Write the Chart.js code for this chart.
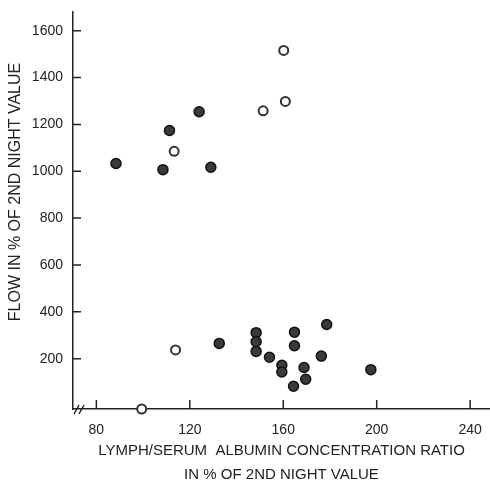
<!DOCTYPE html>
<html>
<head>
<meta charset="utf-8">
<script src="https://cdn.jsdelivr.net/npm/chart.js@4.4.0/dist/chart.umd.min.js"></script>
<style>
  html, body { margin: 0; padding: 0; background: #fff; overflow: hidden; }
  #wrap { width: 490px; height: 484px; }
</style>
</head>
<body>
<div id="wrap"><canvas id="chart"></canvas></div>
<script>
// filled circles
const filledX = [88.4, 111.3, 108.5, 124, 129, 132.6, 148.4, 148.4, 148.4, 154.1, 159.4, 159.4, 164.8, 164.8, 164.4, 168.9, 169.6, 176.3, 178.6, 197.5];
const filledY = [1033, 1174, 1007, 1254, 1017, 265, 311, 272, 231, 206, 172, 143, 313, 255, 82, 162, 112, 211, 346, 153];
// open circles
const openX = [113.3, 160.2, 160.9, 151.4, 113.9, 99.4];
const openY = [1085, 1516, 1298, 1258, 237, -15];

const xTicks = [80, 120, 160, 200, 240];
const yTicks = [200, 400, 600, 800, 1000, 1200, 1400, 1600];
const yTitle = 'FLOW IN % OF 2ND NIGHT VALUE';

const ink = '#222';
const font = 'Liberation Sans';

function toPoints(xs, ys) {
    return xs.map((x, i) => ({ x: x, y: ys[i] }));
}

function noPad(s) {
    s.paddingLeft = 0; s.paddingRight = 0;
    s.paddingTop = 0; s.paddingBottom = 0;
}

// tick marks point into the plot, the // break on the x axis, and the y title
const extras = {
    id: 'extras',
    afterDraw(chart) {
        const ctx = chart.ctx;
        const area = chart.chartArea;
        const xs = chart.scales.x, ys = chart.scales.y;
        ctx.save();
        ctx.strokeStyle = ink;
        ctx.lineWidth = 1.5;
        ctx.beginPath();
        xTicks.forEach(v => {
            const px = xs.getPixelForValue(v);
            ctx.moveTo(px, area.bottom);
            ctx.lineTo(px, area.bottom - 9);
        });
        yTicks.forEach(v => {
            const py = ys.getPixelForValue(v);
            ctx.moveTo(area.left, py);
            ctx.lineTo(area.left + 8, py);
        });
        // axis break
        ctx.moveTo(area.left + 1, area.bottom + 5);
        ctx.lineTo(area.left + 6, area.bottom - 4);
        ctx.moveTo(area.left + 6, area.bottom + 5);
        ctx.lineTo(area.left + 11, area.bottom - 4);
        ctx.stroke();

        ctx.translate(16, 192);
        ctx.rotate(-Math.PI / 2);
        ctx.fillStyle = ink;
        ctx.font = '16px "' + font + '"';
        ctx.textAlign = 'center';
        ctx.textBaseline = 'middle';
        ctx.fillText(yTitle, 0, 0);
        ctx.restore();
    }
};

new Chart(document.getElementById('chart'), {
    type: 'scatter',
    data: {
        datasets: [{
            label: 'filled',
            data: toPoints(filledX, filledY),
            backgroundColor: '#3a3a3a',
            borderColor: '#111',
            borderWidth: 1.5,
            pointRadius: 5,
            clip: false
        }, {
            label: 'open',
            data: toPoints(openX, openY),
            backgroundColor: '#fff',
            borderColor: '#333',
            borderWidth: 2,
            pointRadius: 4.5,
            clip: false
        }]
    },
    options: {
        responsive: true,
        maintainAspectRatio: false,
        animation: false,
        layout: { autoPadding: false, padding: { top: 12, right: 0, left: 0, bottom: 0 } },
        plugins: { legend: { display: false }, tooltip: { enabled: false } },
        scales: {
            x: {
                type: 'linear',
                min: 70,
                max: 248.5,
                afterBuildTicks: s => { s.ticks = xTicks.map(v => ({ value: v })); },
                afterFit: s => { s.height = 75; noPad(s); },
                grid: { display: false, drawTicks: false },
                border: { display: true, color: ink, width: 1.5 },
                ticks: { color: ink, padding: 13, font: { family: font, size: 14 }, callback: v => String(v) },
                title: {
                    display: true,
                    text: ['LYMPH/SERUM  ALBUMIN CONCENTRATION RATIO', 'IN % OF 2ND NIGHT VALUE'],
                    color: ink,
                    padding: { top: 0, bottom: -3 },
                    font: { family: font, size: 15, lineHeight: 1.6 }
                }
            },
            y: {
                type: 'linear',
                min: -15,
                max: 1680,
                afterBuildTicks: s => { s.ticks = yTicks.map(v => ({ value: v })); },
                afterFit: s => { s.width = 73; noPad(s); },
                grid: { display: false, drawTicks: false },
                border: { display: true, color: ink, width: 1.5 },
                ticks: { color: ink, padding: 10, font: { family: font, size: 14 }, callback: v => String(v) }
            }
        }
    },
    plugins: [extras]
});
</script>
</body>
</html>
